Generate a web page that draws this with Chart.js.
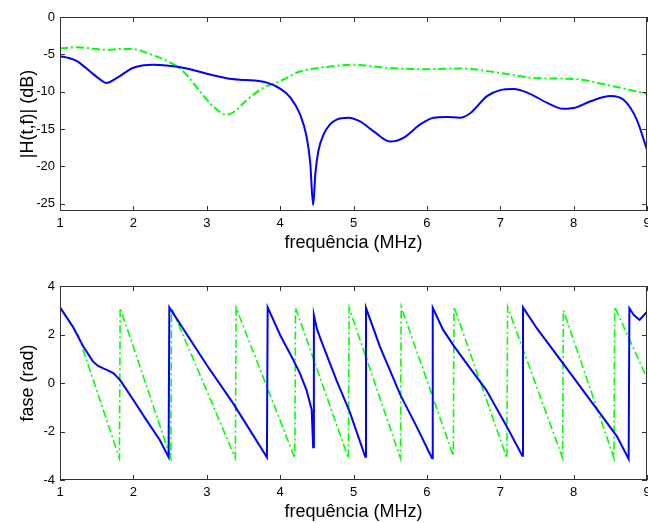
<!DOCTYPE html>
<html>
<head>
<meta charset="utf-8">
<script src="https://cdn.jsdelivr.net/npm/chart.js@4"></script>
<style>
  html, body { margin: 0; padding: 0; background: #fff; }
  #wrap { position: relative; width: 648px; height: 523px; }
  canvas { position: absolute; left: 0; }
</style>
</head>
<body>
<div id="wrap">
  <canvas id="chart-mag" width="648" height="260" style="top:0"></canvas>
  <canvas id="chart-phase" width="648" height="263" style="top:260px"></canvas>
</div>
<script>
// magnitude, blue (solid)
const magBlueFreq = [1.0, 1.12, 1.23, 1.41, 1.55, 1.63, 1.77, 2.0, 2.27, 2.45, 2.73, 3.0, 3.27, 3.45, 3.64, 3.82,
  4.0, 4.14, 4.27, 4.36, 4.41, 4.45, 4.48, 4.52, 4.59, 4.68, 4.77, 4.93, 5.09, 5.27, 5.5, 5.68, 5.91,
  6.09, 6.27, 6.45, 6.59, 6.82, 7.0, 7.18, 7.36, 7.64, 7.86, 8.0, 8.23, 8.5, 8.68, 8.86, 9.0];
const magBlue = [-5.27, -5.5, -5.9, -7.3, -8.4, -8.85, -8.2, -6.8, -6.4, -6.5, -6.9, -7.6, -8.2, -8.4, -8.5, -8.8,
  -9.6, -10.8, -13.0, -16.0, -19.5, -25.2, -21.0, -18.0, -15.8, -14.4, -13.75, -13.5, -14.0, -15.3, -16.7, -16.2, -14.4,
  -13.5, -13.4, -13.5, -12.9, -10.6, -9.8, -9.65, -10.1, -11.5, -12.3, -12.2, -11.3, -10.6, -11.1, -13.75, -17.8];

// magnitude, green (dash-dot)
const magGreenFreq = [1.0, 1.23, 1.41, 1.64, 1.82, 2.0, 2.23, 2.45, 2.68, 2.91, 3.09, 3.27, 3.36, 3.55, 3.77,
  4.0, 4.27, 4.55, 5.0, 5.45, 6.0, 6.45, 7.0, 7.5, 8.0, 8.5, 9.0];
const magGreen = [-4.2, -4.06, -4.2, -4.4, -4.3, -4.3, -5.0, -5.85, -7.3, -10.0, -12.0, -13.1, -12.8, -11.1, -9.5,
  -8.6, -7.3, -6.8, -6.4, -6.8, -7.0, -6.9, -7.5, -8.2, -8.3, -9.2, -10.3];

// phase, blue
const phaseBlueFreq = [1.0, 1.18, 1.32, 1.45, 1.52, 1.59, 1.66, 1.73, 1.82, 2.0, 2.16, 2.36, 2.48, 2.49,
  3.0, 3.36, 3.82, 3.83, 4.0, 4.18, 4.27, 4.36, 4.43, 4.45, 4.46, 4.5, 4.54, 4.68, 4.77, 4.95, 5.16,
  5.17, 5.36, 5.64, 5.86, 6.07, 6.08, 6.22, 6.36, 6.54, 6.81, 7.09, 7.3, 7.31, 7.5, 7.82, 8.09, 8.36,
  8.59, 8.75, 8.76, 8.82, 8.9, 9.0];
const phaseBlue = [3.12, 2.3, 1.49, 0.88, 0.7, 0.6, 0.51, 0.4, 0.12, -0.7, -1.45, -2.35, -3.06, 3.12,
  0.74, -0.84, -3.06, 3.12, 1.98, 0.95, 0.4, -0.29, -1.1, -2.65, 2.8, 2.25, 1.9, 0.8, 0.1, -1.2, -3.04,
  3.1, 1.5, -0.5, -1.8, -3.1, 3.1, 2.2, 1.56, 0.81, -0.29, -1.8, -3.0, 3.12, 2.25, 0.95, -0.15, -1.25,
  -2.2, -3.13, 3.08, 2.8, 2.6, 2.94];

// phase, green
const phaseGreenFreq = [1.0, 1.25, 1.81, 1.82, 2.51, 2.52, 3.39, 3.4, 4.2, 4.21, 4.93, 4.94, 5.64, 5.65,
  6.36, 6.37, 7.09, 7.1, 7.85, 7.86, 8.55, 8.56, 9.0];
const phaseGreen = [3.12, 1.95, -3.1, 3.1, -3.1, 3.1, -3.1, 3.1, -3.1, 3.1, -3.1, 3.1, -3.1, 3.14,
  -3.0, 3.14, -3.1, 3.14, -3.1, 3.0, -3.1, 3.14, 0.2];

const magTicks = [0, -5, -10, -15, -20, -25];
const phaseTicks = [-4, -2, 0, 2, 4];
const freqTicks = [1, 2, 3, 4, 5, 6, 7, 8, 9];

const FONT = "'Liberation Sans', Arial, sans-serif";
const BLUE = '#0000ff';
const GREEN = '#00ff00';

const pts = (xs, ys) => xs.map((x, i) => ({ x, y: ys[i] }));

// matlab style box with inward ticks on all four sides
const matlabBox = {
  id: 'matlabBox',
  afterDatasetsDraw(chart) {
    const { ctx, chartArea: a, scales: { x, y } } = chart;
    ctx.save();
    ctx.strokeStyle = '#333';
    ctx.lineWidth = 1;
    ctx.beginPath();
    for (const t of x.ticks) {
      const px = Math.round(x.getPixelForValue(t.value)) + 0.5;
      ctx.moveTo(px, a.bottom); ctx.lineTo(px, a.bottom - 5);
      ctx.moveTo(px, a.top); ctx.lineTo(px, a.top + 5);
    }
    for (const t of y.ticks) {
      const py = Math.round(y.getPixelForValue(t.value)) + 0.5;
      ctx.moveTo(a.left, py); ctx.lineTo(a.left + 5, py);
      ctx.moveTo(a.right, py); ctx.lineTo(a.right - 5, py);
    }
    ctx.stroke();
    ctx.strokeRect(a.left + 0.5, a.top + 0.5, a.width - 1, a.height - 1);
    ctx.restore();
  },
};

function fixPad(s) {
  s.paddingLeft = 0; s.paddingRight = 0; s.paddingTop = 0; s.paddingBottom = 0;
}

function makeChart(canvas, cfg) {
  return new Chart(canvas, {
    type: 'line',
    data: {
      datasets: [
        {
          data: pts(cfg.blueX, cfg.blueY),
          borderColor: BLUE, borderWidth: 2, pointRadius: 0,
          tension: cfg.tension, cubicInterpolationMode: cfg.tension ? 'monotone' : 'default',
        },
        {
          data: pts(cfg.greenX, cfg.greenY),
          borderColor: GREEN, borderWidth: cfg.greenWidth, borderDash: [8, 3, 2, 3], pointRadius: 0,
          tension: cfg.tension, cubicInterpolationMode: cfg.tension ? 'monotone' : 'default',
        },
      ],
    },
    options: {
      responsive: false,
      animation: false,
      layout: { padding: { top: cfg.padTop, right: 1, left: 0, bottom: 0 } },
      plugins: { legend: { display: false }, tooltip: { enabled: false } },
      scales: {
        x: {
          type: 'linear', min: 1, max: 9,
          afterBuildTicks: (s) => { s.ticks = freqTicks.map((v) => ({ value: v })); },
          afterFit: (s) => { s.height = cfg.xHeight; fixPad(s); },
          grid: { display: false, drawTicks: false },
          border: { display: false },
          ticks: { color: '#000', font: { family: FONT, size: 13 }, padding: 5, maxRotation: 0 },
          title: {
            display: true, text: 'frequência (MHz)', color: '#000',
            font: { family: FONT, size: 18 }, padding: { top: 0, bottom: cfg.titlePad },
          },
        },
        y: {
          type: 'linear', min: cfg.yMin, max: cfg.yMax,
          afterBuildTicks: (s) => { s.ticks = cfg.yTicks.map((v) => ({ value: v })); },
          afterFit: (s) => { s.width = 60; fixPad(s); },
          grid: { display: false, drawTicks: false },
          border: { display: false },
          ticks: { color: '#000', font: { family: FONT, size: 13 }, padding: 5 },
          title: {
            display: true, text: cfg.yTitle, color: '#000',
            font: { family: FONT, size: 18 }, padding: { top: 17, bottom: 0 },
          },
        },
      },
    },
    plugins: [matlabBox],
  });
}

makeChart(document.getElementById('chart-mag'), {
  blueX: magBlueFreq, blueY: magBlue, greenX: magGreenFreq, greenY: magGreen,
  yMin: -26, yMax: 0, yTicks: magTicks, yTitle: '|H(t,f)| (dB)',
  padTop: 17, xHeight: 49, titlePad: 6, tension: 0.4, greenWidth: 2,
});

makeChart(document.getElementById('chart-phase'), {
  blueX: phaseBlueFreq, blueY: phaseBlue, greenX: phaseGreenFreq, greenY: phaseGreen,
  yMin: -4, yMax: 4, yTicks: phaseTicks, yTitle: 'fase (rad)',
  padTop: 26, xHeight: 43, titlePad: 0, tension: 0, greenWidth: 1.6,
});
</script>
</body>
</html>
